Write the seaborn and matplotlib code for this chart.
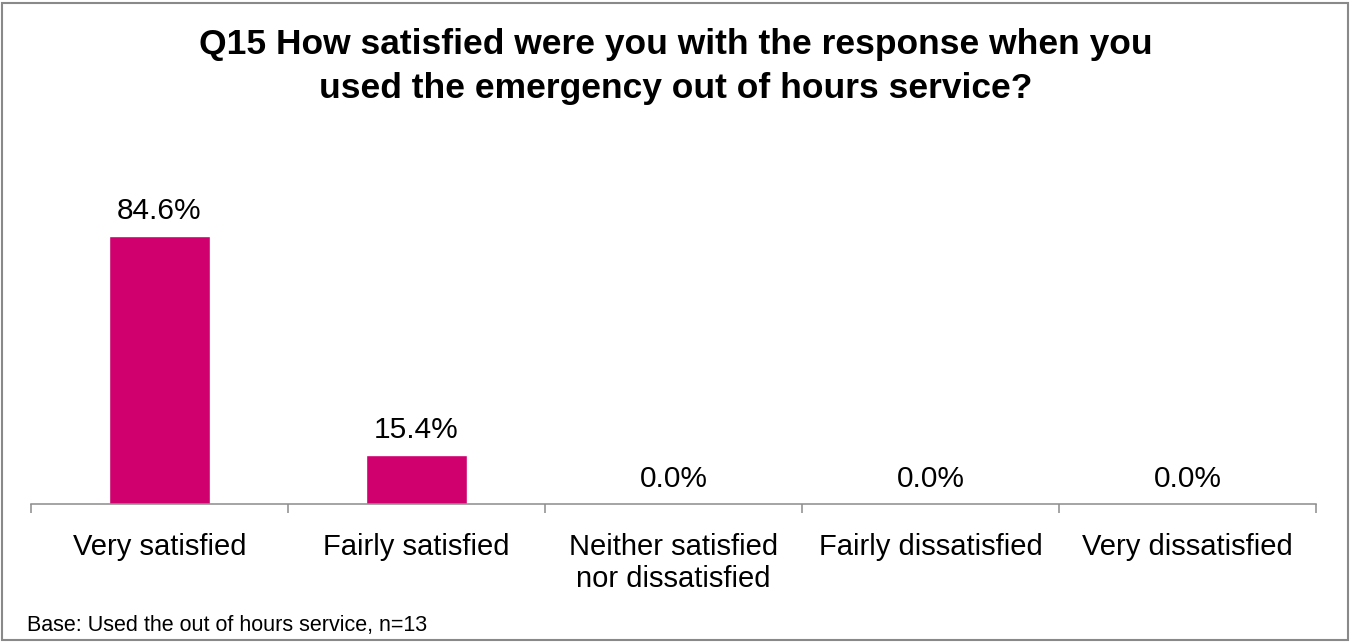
import matplotlib
matplotlib.use("Agg")
import matplotlib.pyplot as plt
import seaborn as sns
import pandas as pd
from matplotlib.patches import Rectangle

categories = ["Very satisfied", "Fairly satisfied", "Neither satisfied\nnor dissatisfied",
              "Fairly dissatisfied", "Very dissatisfied"]
values = [84.6, 15.4, 0.0, 0.0, 0.0]
value_labels = ["84.6%", "15.4%", "0.0%", "0.0%", "0.0%"]

title_lines = ["Q15 How satisfied were you with the response when you",
               "used the emergency out of hours service?"]
footnote = "Base: Used the out of hours service, n=13"

sns.set_theme(style="white")
plt.rcParams["font.family"] = ["Liberation Sans", "DejaVu Sans"]

df = pd.DataFrame({"category": categories, "value": values})

W, H = 1351, 642
fig = plt.figure(figsize=(W / 100, H / 100), dpi=100)
ax = fig.add_axes([31 / W, 138 / H, 1285 / W, 317 / H])

sns.barplot(data=df, x="category", y="value", color="#D0006F", width=0.39,
            saturation=1, ax=ax)

ax.set_ylim(0, 100)
ax.set_xlim(-0.5, len(categories) - 0.5)
ax.set_xlabel("")
ax.set_ylabel("")
ax.set_yticks([])
for side in ["left", "right", "top"]:
    ax.spines[side].set_visible(False)
ax.spines["bottom"].set_color("#8c8c8c")
ax.spines["bottom"].set_linewidth(1.1)

# category separators hanging below the baseline
ax.set_xticks([i - 0.5 for i in range(len(categories) + 1)], minor=True)
ax.tick_params(axis="x", which="minor", length=6.5, width=1.1, color="#8c8c8c",
               direction="out", bottom=True)
ax.tick_params(axis="x", which="major", length=0, labelsize=21, pad=21, labelcolor="black")
for lab in ax.get_xticklabels():
    lab.set_linespacing(1.17)

for i, (v, lab) in enumerate(zip(values, value_labels)):
    ax.annotate(lab, xy=(i, v), xytext=(0, 12.2), textcoords="offset points",
                ha="center", va="baseline", fontsize=21.5, color="black")

for line, base_y in zip(title_lines, [54, 98]):
    fig.text(0.5, 1 - base_y / H, line, ha="center", va="baseline", fontsize=25.5,
             fontweight="bold", color="black")

fig.text(27 / W, 1 - 631 / H, footnote, ha="left", va="baseline", fontsize=15.5, color="black")

fig.patches.append(Rectangle((2 / W, 2 / H), 1346 / W, 637 / H,
                             transform=fig.transFigure, fill=False,
                             edgecolor="#898989", linewidth=1.5))

fig.savefig("out.png", dpi=100)
